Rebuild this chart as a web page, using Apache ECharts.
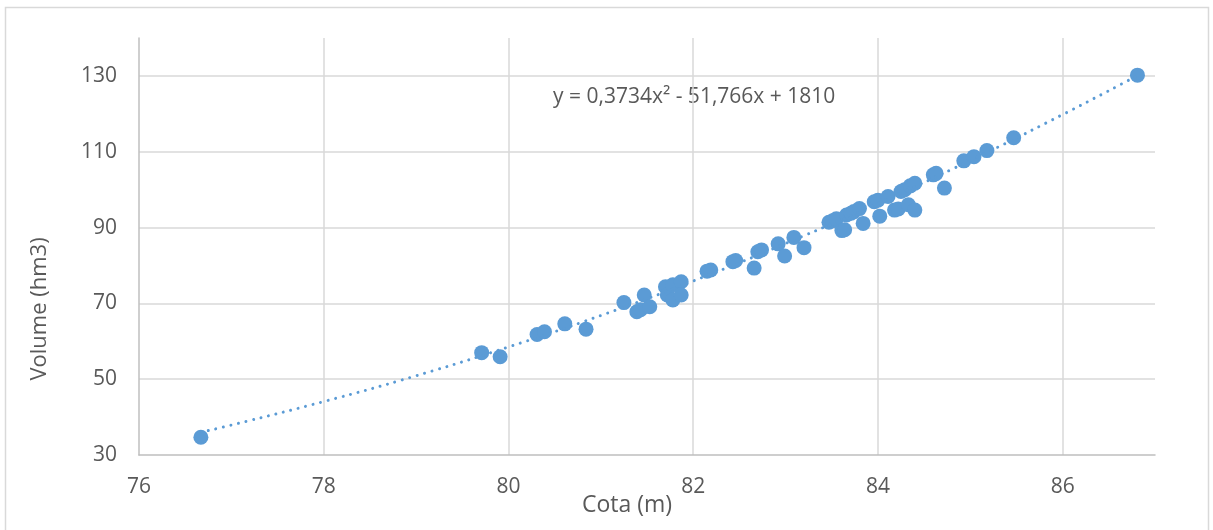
<!DOCTYPE html>
<html>
<head>
<meta charset="utf-8">
<title>Cota x Volume</title>
<script src="https://cdn.jsdelivr.net/npm/echarts@6/dist/echarts.min.js"></script>
<style>
  html, body { margin: 0; padding: 0; background: #fff; }
  #chart { width: 1213px; height: 530px; }
</style>
</head>
<body>
<div id="chart"></div>
<script>
// cota (m) / volume (hm3) readings
var cota = [
  76.67, 79.71, 79.91, 80.31, 80.39, 80.61, 80.84, 81.25, 81.39, 81.43,
  81.47, 81.53, 81.70, 81.72, 81.78, 81.78, 81.87, 81.87, 82.15, 82.19,
  82.43, 82.46, 82.66, 82.70, 82.74, 82.92, 82.99, 83.09, 83.20, 83.47,
  83.51, 83.55, 83.61, 83.64, 83.66, 83.71, 83.74, 83.80, 83.84, 83.96,
  84.00, 84.02, 84.11, 84.18, 84.22, 84.25, 84.29, 84.33, 84.35, 84.40,
  84.40, 84.60, 84.63, 84.72, 84.93, 85.04, 85.18, 85.47, 86.81
];
var volume = [
  34.7, 57.0, 55.9, 61.8, 62.5, 64.6, 63.2, 70.2, 67.8, 68.3,
  72.2, 69.1, 74.4, 72.2, 74.9, 70.9, 75.7, 72.2, 78.5, 78.8,
  81.0, 81.3, 79.3, 83.6, 84.1, 85.7, 82.5, 87.4, 84.7, 91.4,
  91.8, 92.3, 89.2, 89.4, 93.3, 93.8, 94.2, 95.0, 91.1, 96.8,
  97.2, 93.0, 98.2, 94.6, 94.9, 99.5, 100.0, 96.0, 101.0, 101.7,
  94.6, 103.9, 104.3, 100.4, 107.6, 108.7, 110.3, 113.7, 130.2
];

// trendline (poly 2) values
var trendX = [76.67, 77, 78, 79, 80, 81, 82, 83, 84, 85, 86, 86.81];
var trendY = [36.0, 37.9, 44.1, 50.9, 58.5, 66.8, 75.9, 85.8, 96.4, 107.7, 119.8, 130.1];

var equation = 'y = 0,3734x² - 51,766x + 1810';
var xTitle = 'Cota (m)';
var yTitle = 'Volume (hm3)';

var pts = [], trend = [];
for (var i = 0; i < cota.length; i++) pts.push([cota[i], volume[i]]);
for (var j = 0; j < trendX.length; j++) trend.push([trendX[j], trendY[j]]);

var fontName = "'Open Sans', sans-serif";
var txtColor = '#595959';

var chart = echarts.init(document.getElementById('chart'));
var option = {
  animation: false,
  backgroundColor: '#fff',
  grid: { left: 139, right: 58, top: 38, bottom: 75, containLabel: false },
  xAxis: {
    type: 'value',
    min: 76, max: 87, interval: 2,
    axisLine: { show: true, lineStyle: { color: '#bfbfbf', width: 1.5 } },
    axisTick: { show: false },
    axisLabel: { margin: 22, color: txtColor, fontSize: 21, fontFamily: fontName, showMaxLabel: false },
    splitLine: { show: true, showMinLine: false, showMaxLine: false, lineStyle: { color: '#d9d9d9', width: 1.5 } }
  },
  yAxis: {
    type: 'value',
    min: 30, max: 140, interval: 20,
    axisLine: { show: true, lineStyle: { color: '#bfbfbf', width: 1.5 } },
    axisTick: { show: false },
    axisLabel: { margin: 22, color: txtColor, fontSize: 21, fontFamily: fontName, showMaxLabel: false },
    splitLine: { show: true, showMinLine: false, showMaxLine: false, lineStyle: { color: '#d9d9d9', width: 1.5 } }
  },
  graphic: [
    { type: 'rect', silent: true, z: -1,
      shape: { x: 5.5, y: 7.5, width: 1203, height: 530 },
      style: { fill: null, stroke: '#d9d9d9', lineWidth: 1.5 } },
    { type: 'text', x: 553, y: 97,
      style: { text: equation, fill: txtColor, font: '21px ' + fontName, textVerticalAlign: 'middle' } },
    { type: 'text', x: 627, y: 505,
      style: { text: xTitle, fill: txtColor, font: '23px ' + fontName, textAlign: 'center', textVerticalAlign: 'middle' } },
    { type: 'text', x: 40, y: 309, rotation: Math.PI / 2,
      style: { text: yTitle, fill: txtColor, font: '22px ' + fontName, textAlign: 'center', textVerticalAlign: 'middle' } }
  ],
  series: [
    {
      name: 'Volume',
      type: 'scatter',
      data: pts,
      symbol: 'circle',
      symbolSize: 15,
      itemStyle: { color: '#5b9bd5', opacity: 1 },
      z: 2
    },
    {
      name: 'Tendência',
      type: 'line',
      data: trend,
      smooth: true,
      showSymbol: false,
      lineStyle: { color: '#5b9bd5', width: 3, type: [0.01, 7.7], cap: 'round' },
      z: 3
    }
  ]
};
chart.setOption(option);
</script>
</body>
</html>
